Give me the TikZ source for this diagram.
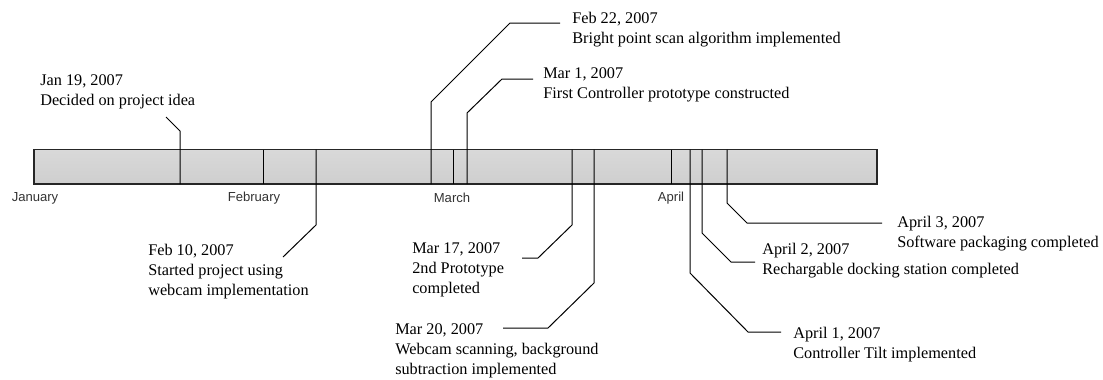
\documentclass[tikz,border=0pt]{standalone}
\usepackage{fontspec}
\setmainfont{Liberation Serif}
\newfontfamily\monthfont{Liberation Sans}
\usetikzlibrary{math}

\tikzset{
event/.style={anchor=north west, inner sep=0pt, align=left, font=\fontsize{12.2}{15}\selectfont},
month/.style={inner sep=0pt, font=\monthfont\fontsize{9.8}{11}\selectfont, text=black!80},
callout/.style={line width=0.75pt},
}

\begin{document}
\begin{tikzpicture}[x=0.75pt,y=-0.75pt]
\tikzmath{
\xa=34;
\xb=877;
\ya=149.5;
\yb=184;
}
\useasboundingbox (0,0) rectangle (1103,379);

%bar
\shade[top color=gray!30, middle color=white!96!gray, bottom color=gray!38] (\xa,\ya) rectangle (\xb,\yb);
\draw[line width=1pt, black!85] (\xa,\ya) rectangle (\xb,\yb);
\foreach \x in {263,453,671} \draw[callout] (\x,\ya) -- (\x,\yb);

\node[month] (jan) at (35,198) {January};
\node[month] (feb) at (254,198) {February};
\node[month] (mar) at (452,198) {March};
\node[month] (apr) at (671,198) {April};

%events above the bar
\node[event] (jan19) at (40,74.5) {Jan 19, 2007\\Decided on project idea};
\node[event] (feb22) at (572,11.5) {Feb 22, 2007\\Bright point scan algorithm implemented};
\node[event] (mar1) at (543,67.5) {Mar 1, 2007\\First Controller prototype constructed};

\coordinate (jan19bar) at (180,\yb);
\coordinate (feb22bar) at (431,\yb);
\coordinate (mar1bar) at (467,\yb);
\coordinate (jan19end) at (166,117);
\coordinate (feb22end) at (560,23);
\coordinate (mar1end) at (533,79);

\draw[callout] (jan19bar) -- (180,131) -- (jan19end);
\draw[callout] (feb22bar) -- (431,102) -- (510,23) -- (feb22end);
\draw[callout] (mar1bar) -- (467,113) -- (502,79) -- (mar1end);

%events below the bar
\node[event] (feb10) at (148,243.5) {Feb 10, 2007\\Started project using\\webcam implementation};
\node[event] (mar17) at (412,242.5) {Mar 17, 2007\\2nd Prototype\\completed};
\node[event] (mar20) at (395,323.5) {Mar 20, 2007\\Webcam scanning, background\\subtraction implemented};
\node[event] (apr1) at (793,326.5) {April 1, 2007\\Controller Tilt implemented};
\node[event] (apr2) at (762,242.5) {April 2, 2007\\Rechargable docking station completed};
\node[event] (apr3) at (897,215.5) {April 3, 2007\\Software packaging completed};

\coordinate (feb10bar) at (316,\ya);
\coordinate (mar17bar) at (572,\ya);
\coordinate (mar20bar) at (594,\ya);
\coordinate (apr1bar) at (690,\ya);
\coordinate (apr2bar) at (702,\ya);
\coordinate (apr3bar) at (727,\ya);
\coordinate (feb10end) at (283,257);
\coordinate (mar17end) at (522,258);
\coordinate (mar20end) at (503,328);
\coordinate (apr1end) at (781,332);
\coordinate (apr2end) at (755,262);
\coordinate (apr3end) at (882,223);

\draw[callout] (feb10bar) -- (316,225) -- (feb10end);
\draw[callout] (mar17bar) -- (572,225) -- (538,258) -- (mar17end);
\draw[callout] (mar20bar) -- (594,283) -- (548,328) -- (mar20end);
\draw[callout] (apr1bar) -- (690,273) -- (748,332) -- (apr1end);
\draw[callout] (apr2bar) -- (702,233) -- (731,262) -- (apr2end);
\draw[callout] (apr3bar) -- (727,203) -- (747,223) -- (apr3end);
\end{tikzpicture}
\end{document}
